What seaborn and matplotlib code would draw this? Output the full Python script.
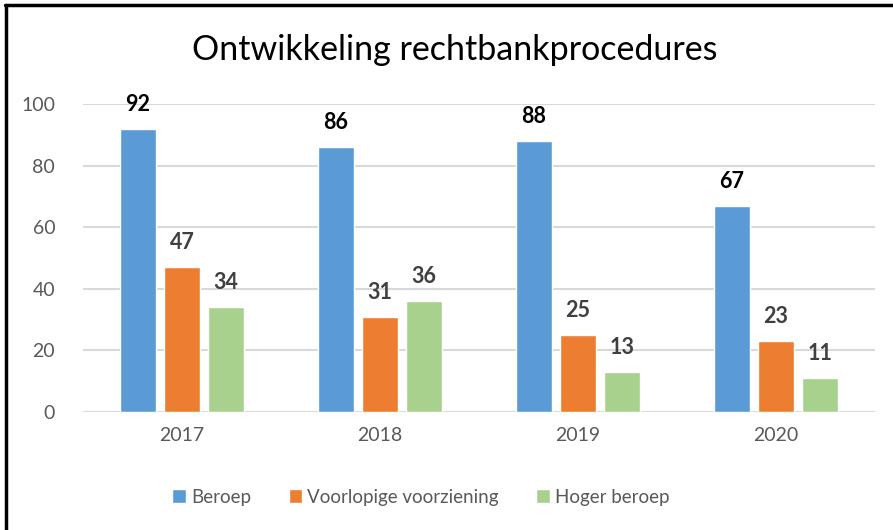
import matplotlib
matplotlib.use("Agg")
import matplotlib.pyplot as plt
import seaborn as sns
import pandas as pd
from matplotlib.lines import Line2D

# chart data
years = ["2017", "2018", "2019", "2020"]
beroep = [92, 86, 88, 67]
voorlopig = [47, 31, 25, 23]
hoger = [34, 36, 13, 11]
series = ["Beroep", "Voorlopige voorziening", "Hoger beroep"]
colors = ["#5B9BD5", "#ED7D31", "#A9D18E"]
label_colors = ["#000000", "#404040", "#404040"]

df = pd.DataFrame({
    "jaar": years * 3,
    "aantal": beroep + voorlopig + hoger,
    "soort": [s for s in series for _ in years],
})

sns.set_style("white")
plt.rcParams["font.family"] = ["Lato", "DejaVu Sans"]

fig = plt.figure(figsize=(8.93, 5.30), dpi=100)
ax = fig.add_axes([83 / 893, 1 - 412 / 530, (875 - 83) / 893, (412 - 104) / 530])

sns.barplot(data=df, x="jaar", y="aantal", hue="soort", palette=colors,
            saturation=1, width=0.667, gap=0.2, ax=ax, legend=True)

ax.set_ylim(0, 100)
ax.set_xlim(-0.5, 3.5)
ax.set_yticks(range(0, 101, 20))
ax.yaxis.grid(True, color="#D9D9D9", linewidth=1.5)
ax.set_axisbelow(True)
for s in ax.spines.values():
    s.set_visible(False)
ax.set_xlabel("")
ax.set_ylabel("")
ax.tick_params(axis="both", length=0, labelsize=14, labelcolor="#595959")
ax.tick_params(axis="y", pad=20)
ax.tick_params(axis="x", pad=11)

# value labels
for cont, col in zip(ax.containers, label_colors):
    for bar in cont:
        h = bar.get_height()
        ax.annotate(f"{h:.0f}", (bar.get_x() + bar.get_width() / 2, h),
                    xytext=(0, 10), textcoords="offset points",
                    ha="center", va="bottom", fontsize=15.5, fontweight="bold",
                    color=col)

fig.text(455 / 893, 1 - 50 / 530, "Ontwikkeling rechtbankprocedures",
         ha="center", va="center", fontsize=24.5, color="#000000")

handles, labels = ax.get_legend_handles_labels()
ax.legend(handles, labels, loc="center", bbox_to_anchor=(421 / 893, 1 - 497 / 530),
          bbox_transform=fig.transFigure, ncol=3, frameon=False, fontsize=13.5,
          labelcolor="#595959", handlelength=0.7, handleheight=0.7,
          handletextpad=0.3, columnspacing=2.0)

# outer frame of the pasted chart
fig.add_artist(Line2D([5 / 893, 1], [1 - 5 / 530, 1 - 5 / 530], color="black",
                      linewidth=2.5, transform=fig.transFigure))
fig.add_artist(Line2D([6 / 893, 6 / 893], [0, 1 - 5 / 530], color="black",
                      linewidth=2.5, transform=fig.transFigure))

fig.savefig("out.png", dpi=100)
